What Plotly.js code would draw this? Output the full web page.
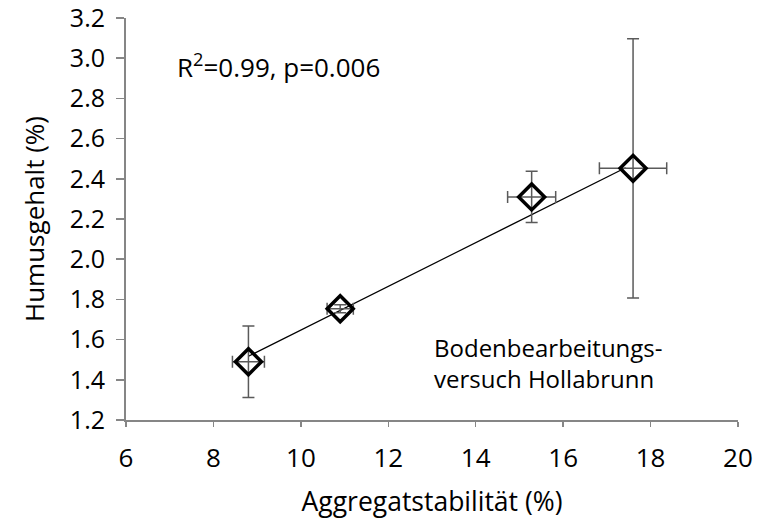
<!DOCTYPE html>
<html>
<head>
<meta charset="utf-8">
<script src="https://cdn.plot.ly/plotly-3.0.1.min.js"></script>
<style>html,body{margin:0;padding:0;background:#fff;}#chart{width:765px;height:524px;}</style>
</head>
<body>
<div id="chart"></div>
<script>
// Data
const aggregatX = [8.8, 10.9, 15.28, 17.6];
const humusY = [1.49, 1.753, 2.31, 2.452];
const errY = [0.178, 0.02, 0.128, 0.645];
const errX = [0.366, 0.3, 0.55, 0.77];
const trendX = [8.8, 17.43];
const trendY = [1.517, 2.455];
const xTicks = [6, 8, 10, 12, 14, 16, 18, 20];
const yTicks = [1.2, 1.4, 1.6, 1.8, 2.0, 2.2, 2.4, 2.6, 2.8, 3.0, 3.2];

const FONT = 'Open Sans, sans-serif';
const AXIS_GRAY = '#868686';
const ERR_GRAY = '#5a5a5a';

const traces = [
  {
    x: trendX, y: trendY, type: 'scatter', mode: 'lines',
    line: {color: '#000', width: 1.2}, hoverinfo: 'skip', showlegend: false
  },
  {
    x: aggregatX, y: humusY, type: 'scatter', mode: 'markers',
    marker: {symbol: 'diamond-open', size: 20, color: '#000', line: {color: '#000', width: 3.5}},
    error_y: {type: 'data', array: errY, visible: true, color: ERR_GRAY, thickness: 1.5, width: 6},
    error_x: {type: 'data', array: errX, visible: true, color: ERR_GRAY, thickness: 1.5, width: 6},
    showlegend: false
  }
];

const layout = {
  width: 765, height: 524,
  margin: {l: 126, r: 27, t: 18, b: 104},
  paper_bgcolor: '#fff', plot_bgcolor: '#fff',
  font: {family: FONT, color: '#000', size: 22},
  showlegend: false,
  xaxis: {
    range: [5.999, 20.001], tickvals: xTicks, ticktext: xTicks.map(String),
    showgrid: false, zeroline: false, showline: true, linecolor: AXIS_GRAY, linewidth: 2,
    ticks: 'outside', ticklen: 5, tickcolor: AXIS_GRAY, tickwidth: 1.5,
    tickfont: {family: FONT, size: 26, color: '#000'},
    ticklabelstandoff: 9, ticklabeloverflow: 'allow',
    title: {text: 'Aggregatstabilität (%)', font: {family: FONT, size: 26.5, color: '#000'}, standoff: 18}
  },
  yaxis: {
    range: [1.1999, 3.2001], tickvals: yTicks, ticktext: yTicks.map(v => v.toFixed(1)),
    showgrid: false, zeroline: false, showline: true, linecolor: AXIS_GRAY, linewidth: 2,
    ticks: 'outside', ticklen: 8, tickcolor: AXIS_GRAY, tickwidth: 1.5,
    tickfont: {family: FONT, size: 25, color: '#000'},
    ticklabelstandoff: 6, ticklabeloverflow: 'allow',
    title: {text: 'Humusgehalt (%)', font: {family: FONT, size: 26, color: '#000'}, standoff: 18}
  },
  annotations: [
    {
      x: 7.12, y: 2.96, xref: 'x', yref: 'y', xanchor: 'left', yanchor: 'middle',
      text: 'R<sup>2</sup>=0.99, p=0.006', showarrow: false,
      font: {family: FONT, size: 26, color: '#000'}
    },
    {
      x: 13.0, y: 1.485, xref: 'x', yref: 'y', xanchor: 'left', yanchor: 'middle', align: 'left',
      text: 'Bodenbearbeitungs-<br>versuch Hollabrunn', showarrow: false,
      font: {family: FONT, size: 24, color: '#000'}
    }
  ]
};

Plotly.newPlot('chart', traces, layout, {staticPlot: true, displayModeBar: false});
</script>
</body>
</html>
